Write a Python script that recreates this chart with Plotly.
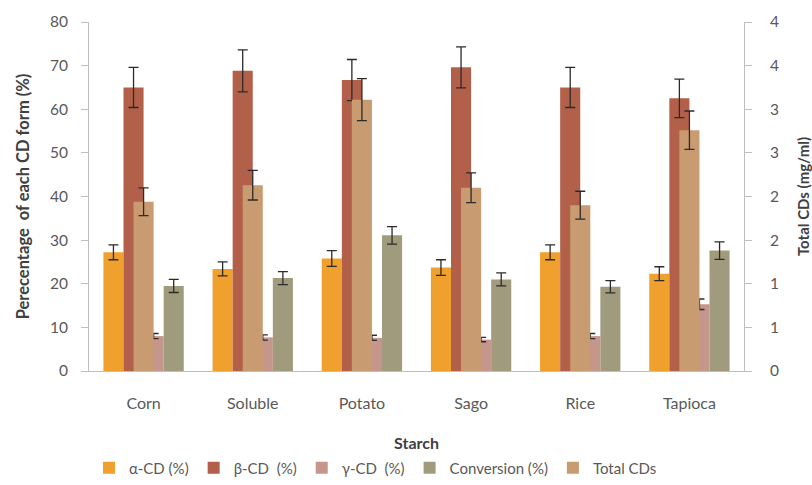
import plotly.graph_objects as go

# Starch sources
starches = ["Corn", "Soluble", "Potato", "Sago", "Rice", "Tapioca"]

# CD composition (%) with standard deviations
alpha_cd = [27.2, 23.4, 25.8, 23.7, 27.2, 22.3]
alpha_err = [1.7, 1.6, 1.8, 1.8, 1.7, 1.6]
beta_cd = [65.0, 68.8, 66.7, 69.6, 65.0, 62.5]
beta_err = [4.6, 4.8, 4.7, 4.7, 4.6, 4.4]
gamma_cd = [8.0, 7.7, 7.6, 7.2, 8.0, 15.3]
gamma_err = [0.6, 0.6, 0.6, 0.5, 0.6, 1.2]
conversion = [19.5, 21.3, 31.1, 21.0, 19.3, 27.6]
conversion_err = [1.5, 1.5, 2.0, 1.5, 1.4, 2.0]

# Total CDs (mg/ml), secondary axis
total_cds = [1.94, 2.13, 3.11, 2.10, 1.90, 2.76]
total_err = [0.16, 0.17, 0.24, 0.17, 0.16, 0.22]

# Secondary axis tick labels (rounded values as printed)
right_tickvals = [0, 0.5, 1, 1.5, 2, 2.5, 3, 3.5, 4]
right_ticktext = ["0", "1", "1", "2", "2", "3", "3", "4", "4"]

FONT = "Lato, 'Open Sans', sans-serif"
ERR = dict(type="data", thickness=1.3, width=5, color="#2b2b2b")

fig = go.Figure()

primary = [
    ("α-CD (%)", alpha_cd, alpha_err, "#F0A02C"),
    ("β-CD  (%)", beta_cd, beta_err, "#B2604A"),
    ("γ-CD  (%)", gamma_cd, gamma_err, "#C4968C"),
    ("Conversion (%)", conversion, conversion_err, "#A19B7D"),
]
for name, vals, errs, col in primary:
    fig.add_trace(go.Bar(
        x=starches, y=vals, name=name,
        marker=dict(color=col, line=dict(width=0)),
        error_y=dict(array=errs, **ERR),
        yaxis="y",
    ))

bar_w = (1 - 0.264) / 4
fig.add_trace(go.Bar(
    x=starches, y=total_cds, name="Total CDs",
    marker=dict(color="#C99B70", line=dict(width=0)),
    error_y=dict(array=total_err, **ERR),
    width=bar_w, offset=-bar_w / 2,
    yaxis="y2",
))

fig.update_layout(
    width=812, height=485,
    margin=dict(l=89, r=68, t=22, b=114, autoexpand=False),
    paper_bgcolor="white", plot_bgcolor="white",
    barmode="group", bargap=0.264, bargroupgap=0,
    font=dict(family=FONT, color="#595959", size=15),
    showlegend=True,
    legend=dict(
        orientation="h", x=0.0, xanchor="left",
        yref="container", y=0.035, yanchor="middle",
        font=dict(size=15, color="#595959"),
        traceorder="normal", itemwidth=30,
    ),
    xaxis=dict(
        showline=True, linecolor="#BFBFBF", linewidth=1,
        ticks="", showgrid=False, ticklabelstandoff=18,
        tickfont=dict(size=16, color="#595959"),
        title=dict(text="<b>Starch</b>", font=dict(size=16, color="#404040"), standoff=26),
    ),
    yaxis=dict(
        range=[0, 80], dtick=10, showgrid=False,
        showline=True, linecolor="#BFBFBF", linewidth=1,
        ticks="outside", ticklen=7, tickcolor="#BFBFBF",
        ticklabelstandoff=10,
        tickfont=dict(size=15.5, color="#595959"),
        title=dict(text="<b>Perecentage  of each CD form (%)</b>",
                   font=dict(size=16.5, color="#404040"), standoff=16),
        zeroline=False,
    ),
    yaxis2=dict(
        range=[0, 4], overlaying="y", side="right",
        tickvals=right_tickvals, ticktext=right_ticktext,
        showgrid=False, showline=True, linecolor="#BFBFBF", linewidth=1,
        ticks="outside", ticklen=7, tickcolor="#BFBFBF",
        ticklabelstandoff=15,
        tickfont=dict(size=15.5, color="#595959"),
        title=dict(text="<b>Total CDs (mg/ml)</b>",
                   font=dict(size=15, color="#404040"), standoff=20),
        zeroline=False,
    ),
)

fig.write_html("out.html")
